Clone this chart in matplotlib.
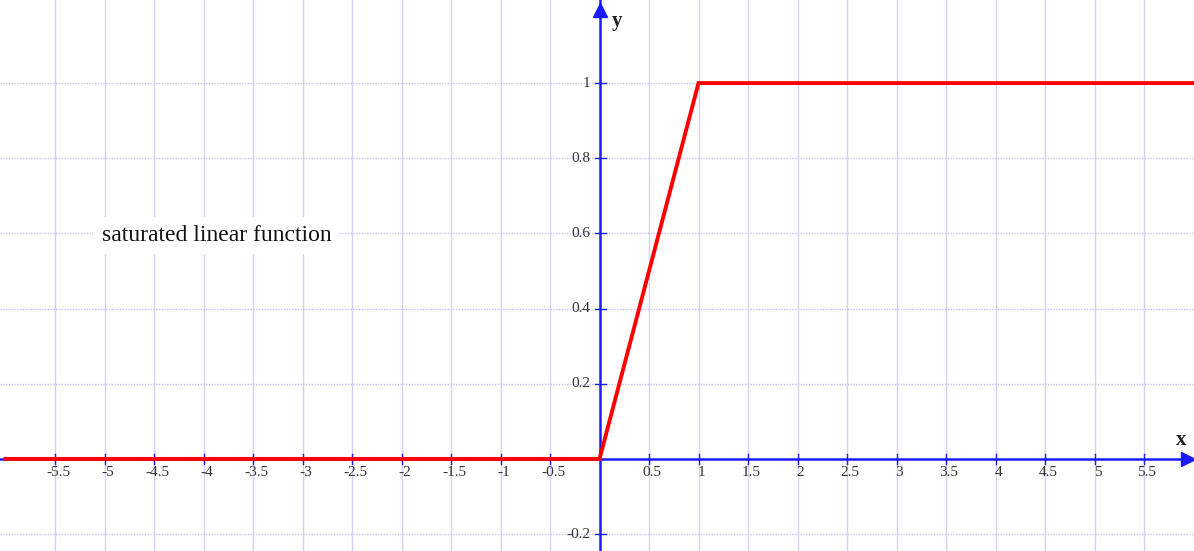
import matplotlib
matplotlib.use("Agg")
import matplotlib.pyplot as plt
import numpy as np

# Data
x_vals = [-6.0, 0.0, 1.0, 6.0]
y_vals = [0.0, 0.0, 1.0, 1.0]
x_ticks = [-5.5, -5, -4.5, -4, -3.5, -3, -2.5, -2, -1.5, -1, -0.5,
           0.5, 1, 1.5, 2, 2.5, 3, 3.5, 4, 4.5, 5, 5.5]
x_tick_labels = ["-5.5", "-5", "-4.5", "-4", "-3.5", "-3", "-2.5", "-2", "-1.5", "-1", "-0.5",
                 "0.5", "1", "1.5", "2", "2.5", "3", "3.5", "4", "4.5", "5", "5.5"]
y_ticks = [-0.2, 0.2, 0.4, 0.6, 0.8, 1.0]
y_tick_labels = ["-0.2", "0.2", "0.4", "0.6", "0.8", "1"]
title_text = "saturated linear function"

serif = ["Liberation Serif", "DejaVu Serif"]

fig = plt.figure(figsize=(11.94, 5.51), dpi=100)
ax = fig.add_axes([0, 0, 1, 1])
ax.set_xlim(-6.056, 6.005)
ax.set_ylim(-0.245, 1.221)
ax.axis("off")

grid_c = "#d2d2f4"
# vertical grid lines
for xv in x_ticks:
    ax.axvline(xv, color=grid_c, lw=1.0, zorder=1)
# horizontal grid lines (dotted)
for yv in y_ticks:
    ax.axhline(yv, color="#c4c4f0", lw=1.0, ls=(0, (1, 1)), zorder=1)

# axes
axis_c = "#1a1aff"
ax.axhline(0, color=axis_c, lw=1.8, zorder=3)
ax.axvline(0, color=axis_c, lw=1.8, zorder=3)
ax.plot([5.94], [0], marker=">", color=axis_c, ms=10, clip_on=False, zorder=4)
ax.plot([0], [1.195], marker="^", color=axis_c, ms=10, clip_on=False, zorder=4)

# tick marks
for xv in x_ticks:
    ax.plot([xv, xv], [-0.014, 0.014], color=axis_c, lw=1.0, zorder=3)
for yv in y_ticks:
    ax.plot([-0.05, 0.07], [yv, yv], color=axis_c, lw=1.0, zorder=3)

# tick labels
for xv, lab in zip(x_ticks, x_tick_labels):
    ax.text(xv + 0.03, -0.018, lab, ha="center", va="top", fontsize=11,
            family=serif, color="#333333", zorder=5)
for yv, lab in zip(y_ticks, y_tick_labels):
    ax.text(-0.09, yv, lab, ha="right", va="center", fontsize=11,
            family=serif, color="#333333", zorder=5)

# axis names
ax.text(0.18, 1.165, "y", fontsize=15, fontweight="bold", family=serif,
        ha="center", va="center", color="#222222")
ax.text(5.88, 0.05, "x", fontsize=15, fontweight="bold", family=serif,
        ha="center", va="center", color="#222222")

# function
ax.plot(x_vals, y_vals, color="#ff0000", lw=2.8, zorder=6, solid_joinstyle="miter")

# annotation
ax.text(-3.87, 0.595, title_text, fontsize=17, family=serif, ha="center", va="center",
        color="#111111", zorder=5,
        bbox=dict(facecolor="white", edgecolor="none", pad=6))

fig.savefig("out.png", dpi=100)
